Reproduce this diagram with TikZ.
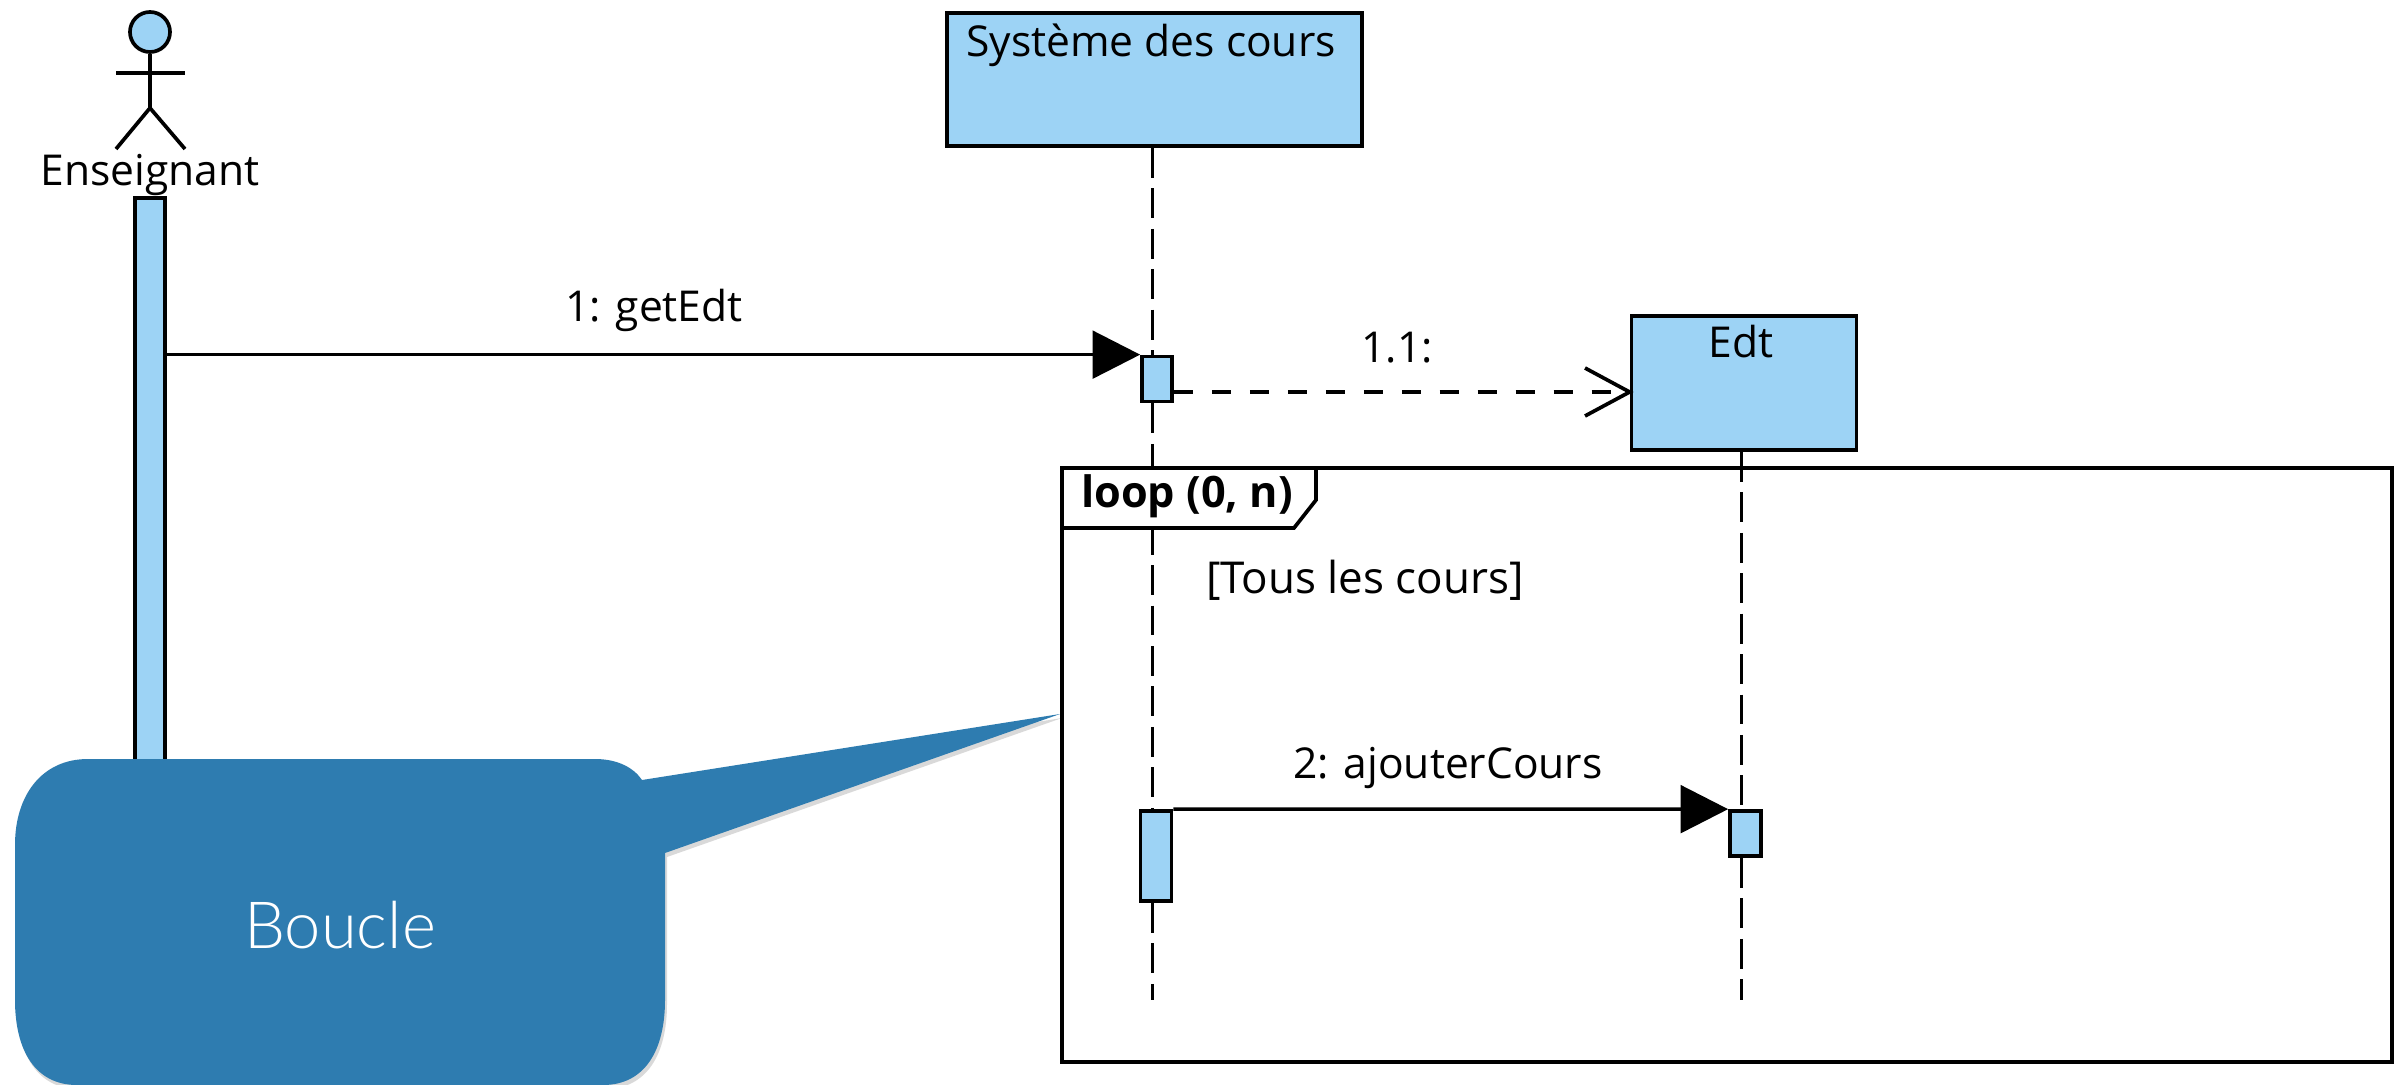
\documentclass[tikz,border=0pt]{standalone}
\usepackage{fontspec}
\usepackage{xcolor}
\usetikzlibrary{arrows.meta}
\setmainfont{Open Sans}
\newfontfamily\calloutfont{Lato Light}

\definecolor{umlblue}{RGB}{157,211,245}
\definecolor{calloutblue}{RGB}{46,124,176}

\tikzset{
  umlline/.style={line width=1.05pt},
  umlbox/.style={draw=black,fill=umlblue,umlline,inner sep=0pt},
  umltext/.style={inner sep=0pt,font=\fontsize{12.1}{14}\selectfont},
  lifeline/.style={line width=0.85pt,dash pattern=on 8.5pt off 3pt},
  msgcall/.style={umlline,-{Triangle[length=13.5pt,width=13.5pt]}},
  msgasync/.style={umlline,dash pattern=on 5.4pt off 5.4pt}
}

\begin{document}
\begin{tikzpicture}[x=0.01cm,y=-0.01cm]
\useasboundingbox (0,0) rectangle (2403,1085);

% Actor
\node[circle,umlbox,minimum size=0.4cm] (head) at (150,32) {};
\coordinate (hip) at (150,108);
\coordinate (armL) at (116,73);
\coordinate (armR) at (185,73);
\coordinate (footL) at (116,149);
\coordinate (footR) at (185,149);
\draw[umlline] (head.south) -- (hip);
\draw[umlline] (armL) -- (armR);
\draw[umlline] (footL) -- (hip) -- (footR);
\node[umltext] (enseignant) at (150,175) {Enseignant};

% Boxes
\node[umlbox,minimum width=4.15cm,minimum height=1.33cm] (cours) at (1154.5,79.5) {};
\node[umltext] (coursLabel) at (1151,45) {Système des cours};
\node[umlbox,minimum width=2.25cm,minimum height=1.34cm] (edt) at (1744,383) {};
\node[umltext] (edtLabel) at (1741,342) {Edt};

% Activation bars
\node[umlbox,minimum width=0.30cm,minimum height=6.5cm] (barEns) at (150,523) {};
\node[umlbox,minimum width=0.30cm,minimum height=0.45cm] (actCours) at (1157,379) {};
\node[umlbox,minimum width=0.31cm,minimum height=0.90cm] (actLoop) at (1156,856) {};
\node[umlbox,minimum width=0.31cm,minimum height=0.45cm] (actEdt) at (1745.5,833.5) {};

% Lifeline ends and frame corner
\coordinate (endCours) at (1152,1000);
\coordinate (endEdt) at (1741,1000);
\coordinate (m11) at (1172,392);
\coordinate (barbUp) at (1585,368);
\coordinate (barbDown) at (1585,416);
\coordinate (frameNW) at (1062,468);

% Lifelines
\draw[lifeline] (cours.south -| endCours) -- (actCours.north -| endCours);
\draw[lifeline] (actCours.south -| endCours) -- (actLoop.north -| endCours);
\draw[lifeline] (actLoop.south -| endCours) -- (endCours);
\draw[lifeline] (edt.south -| endEdt) -- (actEdt.north -| endEdt);
\draw[lifeline] (actEdt.south -| endEdt) -- (endEdt);

% Loop tab
\coordinate (tabA) at (1316,468);
\coordinate (tabB) at (1316,500);
\coordinate (tabC) at (1294,528);
\coordinate (tabD) at (1062,528);
\fill[white] (frameNW) -- (tabA) -- (tabB) -- (tabC) -- (tabD) -- cycle;
\draw[umlline] (tabA) -- (tabB) -- (tabC) -- (tabD);
\node[draw,umlline,minimum width=13.29cm,minimum height=5.93cm,inner sep=0pt] (frame) at (1727,765) {};
\node[umltext,font=\fontsize{12.3}{14}\selectfont\bfseries] (loopLabel) at (1187,496) {loop (0, n)};
\node[umltext,font=\fontsize{12.5}{14}\selectfont] (guard) at (1365,580) {[Tous les cours]};

% Messages
\draw[msgcall] (barEns.east |- actCours.north) -- (actCours.north west);
\node[umltext] (getEdt) at (654,310) {1: getEdt};
\draw[msgasync] (actCours.east |- m11) -- (edt.west |- m11);
\draw[umlline] (barbUp) -- (edt.west |- m11) -- (barbDown);
\node[umltext] (msgOne) at (1397,348) {1.1:};
\draw[msgcall] (actLoop.north east) -- (actEdt.north west);
\node[umltext] (ajouter) at (1448,768) {2: ajouterCours};

% Callout
\def\calloutpath{(88,759) -- (595,759) .. controls (618,759) and (634,768) .. (642,780) -- (1060,714) -- (665,853) -- (665,1000) .. controls (665,1050) and (645,1085) .. (603,1085) -- (77,1085) .. controls (35,1085) and (15,1050) .. (15,1000) -- (15,845) .. controls (15,795) and (42,759) .. (88,759) -- cycle}
\fill[black,opacity=0.15,xshift=0.02cm,yshift=-0.04cm] \calloutpath;
\fill[calloutblue] \calloutpath;
\node[inner sep=0pt,text=white,font=\calloutfont\fontsize{18.5}{20}\selectfont] (boucle) at (340,925) {Boucle};

\end{tikzpicture}
\end{document}
